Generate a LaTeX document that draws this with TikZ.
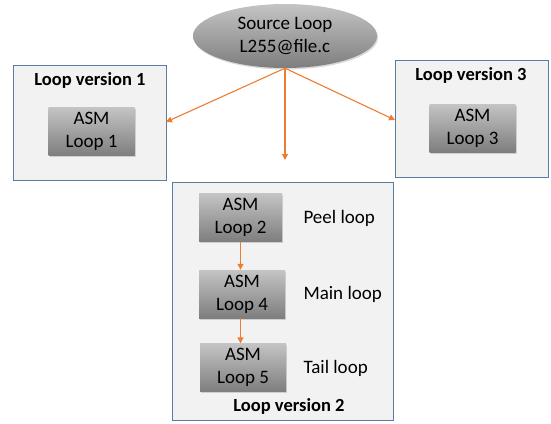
\documentclass[tikz,border=0pt]{standalone}
\usepackage{fontspec}
\setmainfont{Carlito}
\usetikzlibrary{shapes.geometric,arrows.meta,shadows}
\definecolor{boxfill}{HTML}{F2F2F2}
\definecolor{boxline}{HTML}{5A7CA3}
\definecolor{arr}{HTML}{ED7D31}
\definecolor{gtop}{HTML}{C4C4C4}
\definecolor{gbot}{HTML}{7E7E7E}
\tikzset{
  version/.style={draw=boxline, fill=boxfill, line width=0.8pt, inner sep=0pt},
  asm/.style={rectangle, minimum width=86pt, minimum height=48pt, inner sep=0pt,
    top color=gtop, bottom color=gbot, align=center, font=\fontsize{19}{23}\selectfont,
    drop shadow={shadow xshift=1pt, shadow yshift=-1.5pt, opacity=0.3}},
  title/.style={font=\fontsize{18.5}{20}\selectfont\bfseries},
  lbl/.style={font=\fontsize{19}{21}\selectfont, anchor=west},
  conn/.style={draw=arr, line width=1.1pt, -{Triangle[length=6pt,width=6pt]}}
}
\begin{document}
\begin{tikzpicture}[x=1pt,y=-1pt]
\useasboundingbox (0,0) rectangle (551,423);
% version boxes
\node[version, minimum width=153pt, minimum height=115pt, anchor=north west] (v1) at (13,65) {};
\node[version, minimum width=153pt, minimum height=117pt, anchor=north west] (v3) at (395,60) {};
\node[version, minimum width=221pt, minimum height=238pt, anchor=north west] (v2) at (172,182) {};
% titles
\node[title] (t1) at (90,80) {Loop version 1};
\node[title] (t3) at (471,75) {Loop version 3};
\node[title] (t2) at (289,406) {Loop version 2};
% source ellipse
\node[ellipse, minimum width=184pt, minimum height=64pt, inner sep=0pt,
  top color=gtop, bottom color=gbot, align=center, font=\fontsize{19}{23}\selectfont,
  drop shadow={shadow xshift=1pt, shadow yshift=-1.5pt, opacity=0.3}] (src) at (285,36) {Source Loop\\L255@file.c};
% asm boxes
\node[asm] (l1) at (91.5,131.5) {ASM\\Loop 1};
\node[asm] (l3) at (472.5,128) {ASM\\Loop 3};
\node[asm, minimum width=83pt] (l2) at (240.5,217.5) {ASM\\Loop 2};
\node[asm] (l4) at (242,294) {ASM\\Loop 4};
\node[asm] (l5) at (243,367.5) {ASM\\Loop 5};
% labels
\node[lbl] (p) at (300,218) {Peel loop};
\node[lbl] (m) at (300,294) {Main loop};
\node[lbl] (tl) at (300,368) {Tail loop};
% connectors
\coordinate (e1) at (166,122);
\coordinate (e3) at (395,120);
\coordinate (e2) at (285,160);
\draw[conn] (src.south) -- (e1);
\draw[conn] (src.south) -- (e3);
\draw[conn] (src.south) -- (e2);
\draw[conn] (l2.south) -- (l2.south |- l4.north);
\draw[conn] (l2.south |- l4.south) -- (l2.south |- l5.north);
\end{tikzpicture}
\end{document}
